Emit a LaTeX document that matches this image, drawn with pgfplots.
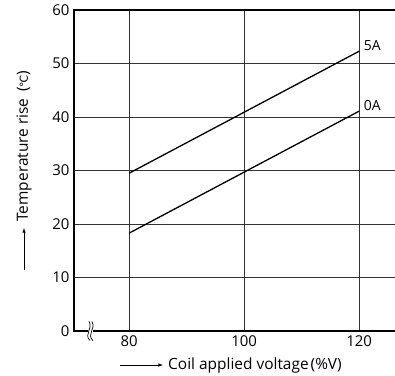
\documentclass[border=0pt]{standalone}
\usepackage{pgfplots}
\pgfplotsset{compat=1.18}
\usepackage{fontspec}
\setmainfont{Open Sans}
\newfontfamily\dejavu{DejaVu Sans}
\begin{document}
\begin{tikzpicture}
\begin{axis}[name=ax,
  scale only axis, width=322bp, height=321bp,
  xmin=70.4, xmax=126.4, ymin=0, ymax=60,
  xtick={80,100,120}, ytick={0,10,...,60},
  grid=major, major grid style={black!80, line width=0.6pt},
  axis line style={line width=1.1pt},
  tick style={draw=none},
  /pgf/number format/assume math mode=true,
  ticklabel style={font=\fontsize{15}{17}\selectfont},
  xticklabel style={yshift=-1bp},
  yticklabel style={xshift=-1bp},
  clip=false,
]
\addplot[black, line width=1.3pt] coordinates {(80,29.5) (120,52.3)};
\addplot[black, line width=1.3pt] coordinates {(80,18.3) (120,41.1)};
\node[anchor=west, font=\fontsize{14}{16}\selectfont] at (axis cs:120.2,53.4) {5A};
\node[anchor=west, font=\fontsize{14}{16}\selectfont] at (axis cs:120.2,42.2) {0A};
% axis break
\fill[white] (axis cs:72.9,-0.8) rectangle (axis cs:73.7,0.8);
\draw[black, line width=0.7pt] (axis cs:73.2,-1.8) .. controls (axis cs:72.0,-0.6) and (axis cs:73.8,0.4) .. (axis cs:73.0,1.8);
\draw[black, line width=0.7pt] (axis cs:73.7,-1.8) .. controls (axis cs:72.5,-0.6) and (axis cs:74.3,0.4) .. (axis cs:73.5,1.8);
\end{axis}
% y label with arrow
\node[rotate=90, anchor=center, font=\fontsize{15.5}{17}\selectfont] at ([xshift=-50bp, yshift=-136bp]ax.north west) {Temperature rise \,({\dejavu\fontsize{11}{12}\selectfont ℃})};
\draw[-latex, line width=0.6pt] ([xshift=-50bp, yshift=-260bp]ax.north west) -- ++(0,42bp);
% x label with arrow
\draw[-latex, line width=0.6pt] ([xshift=46bp, yshift=-34bp]ax.south west) -- ++(43bp,0);
\node[anchor=west, inner sep=0pt, font=\fontsize{15.5}{17}\selectfont] at ([xshift=94bp, yshift=-34bp]ax.south west) {Coil applied voltage\hspace{2bp}(\%V)};
\pgfresetboundingbox
\path[use as bounding box] ([xshift=-74bp,yshift=-45bp]ax.south west) rectangle ([xshift=-1bp,yshift=10bp]ax.north east);
\end{tikzpicture}
\end{document}
